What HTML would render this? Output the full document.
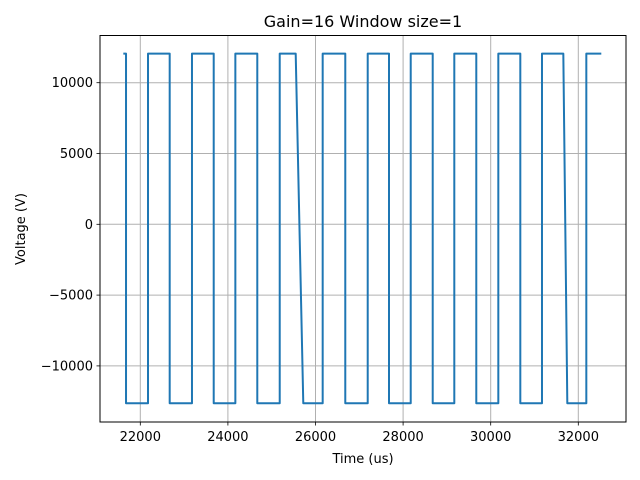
<!DOCTYPE html>
<html><head><meta charset="utf-8"><style>
html,body{margin:0;padding:0;background:#fff;}
svg{display:block;font-family:"DejaVu Sans","Liberation Sans",sans-serif;}
</style></head><body>
<svg id="chart" width="640" height="480" viewBox="0 0 640 480" xmlns="http://www.w3.org/2000/svg">
<rect width="640" height="480" fill="#fff"/>
<g id="grid"></g>
<g id="series"></g>
<rect x="100" y="35.5" width="526" height="386.5" fill="none" stroke="#000" stroke-width="1"/>
<g id="ticks"></g>
<text x="363" y="27" text-anchor="middle" font-size="16">Gain=16 Window size=1</text>
<text x="363" y="463" text-anchor="middle" font-size="13">Time (us)</text>
<text transform="translate(25,229) rotate(-90)" text-anchor="middle" font-size="13">Voltage (V)</text>
</svg>
<script>
const xTicks = [22000, 24000, 26000, 28000, 30000, 32000];
const yTicks = [10000, 5000, 0, -5000, -10000];
const yTickLabels = ["10000", "5000", "0", "\u22125000", "\u221210000"];
const times = [21612,21674,21674,22176,22176,22671,22671,23180,23180,23676,23676,24170,24170,24671,24671,25183,25183,25548,25721,26164,26164,26680,26680,27192,27192,27678,27678,28174,28174,28676,28676,29169,29169,29671,29671,30174,30174,30676,30676,31171,31171,31658,31749,32183,32183,32525];
const volts = [12050,12050,-12640,-12640,12050,12050,-12640,-12640,12050,12050,-12640,-12640,12050,12050,-12640,-12640,12050,12050,-12640,-12640,12050,12050,-12640,-12640,12050,12050,-12640,-12640,12050,12050,-12640,-12640,12050,12050,-12640,-12640,12050,12050,-12640,-12640,12050,12050,-12640,-12640,12050,12050];

const NS = "http://www.w3.org/2000/svg";
const X = v => 140.3 + (v - 22000) * (87.6 / 2000);
const Y = v => 224.3 - v * (70.8 / 5000);
function mk(tag, attrs, parent) {
  const e = document.createElementNS(NS, tag);
  for (const k in attrs) e.setAttribute(k, attrs[k]);
  parent.appendChild(e);
  return e;
}
const grid = document.getElementById('grid');
const ticks = document.getElementById('ticks');
xTicks.forEach(v => {
  const x = X(v);
  const g = mk('line', {x1:x, x2:x, y1:35.5, y2:422, stroke:'#b0b0b0', 'stroke-width':1}, grid);
  
  
  const t = mk('line', {x1:x, x2:x, y1:422, y2:425.5, stroke:'#000', 'stroke-width':0.8}, ticks);
  
  
  const l = mk('text', {x:x, y:441, 'text-anchor':'middle', 'font-size':13}, ticks);
  l.textContent = String(v);
  
  
});
yTicks.forEach((v, i) => {
  const y = Y(v);
  const g = mk('line', {x1:100, x2:626, y1:y, y2:y, stroke:'#b0b0b0', 'stroke-width':1}, grid);
  
  
  const t = mk('line', {x1:96.5, x2:100, y1:y, y2:y, stroke:'#000', 'stroke-width':0.8}, ticks);
  
  
  const l = mk('text', {x:93, y:y + 4.5, 'text-anchor':'end', 'font-size':13}, ticks);
  l.textContent = yTickLabels[i];
  
  
});
const pts = times.map((t, i) => X(t).toFixed(2) + ',' + Y(volts[i]).toFixed(2)).join(' ');
const line = mk('polyline', {points:pts, fill:'none', stroke:'#1f77b4', 'stroke-width':2, 'stroke-linejoin':'round'}, document.getElementById('series'));


</script>
</body></html>
